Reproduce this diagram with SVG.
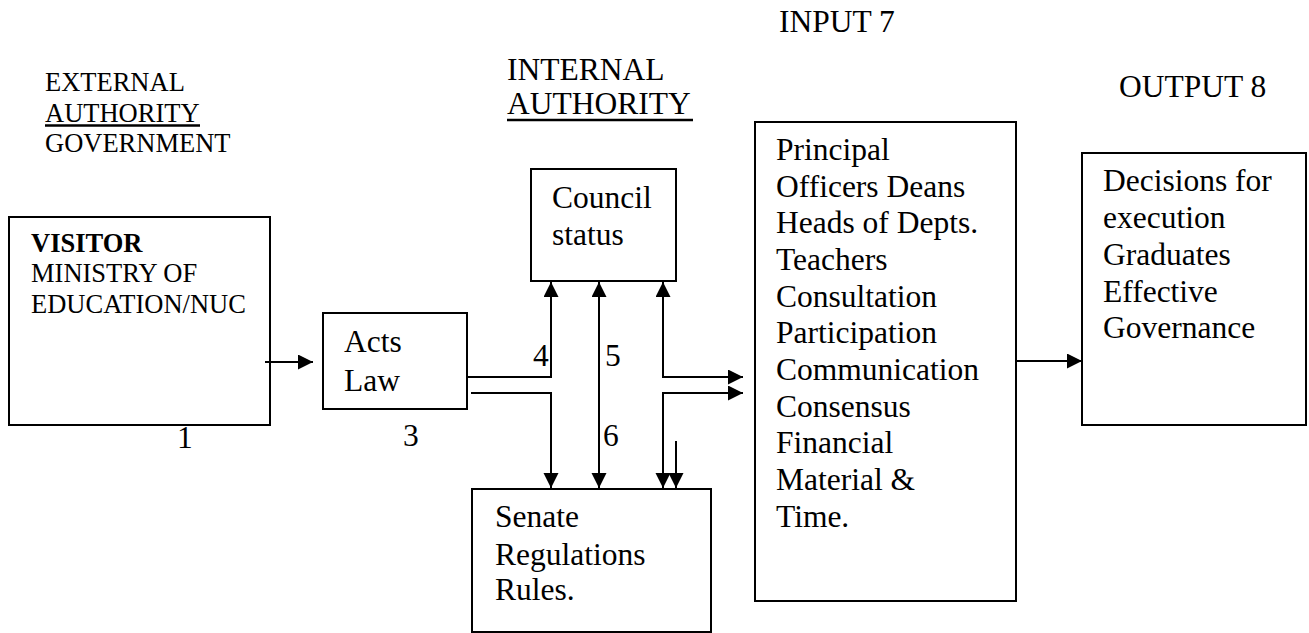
<svg xmlns="http://www.w3.org/2000/svg" width="1309" height="633" viewBox="0 0 1309 633" font-family="'Liberation Serif', 'DejaVu Serif', serif">
<style>
text{font-family:'Liberation Serif','Times New Roman','DejaVu Serif',serif;fill:#000}
.l{font-size:31.5px}
.s{font-size:26.5px}
.b{font-weight:bold}
rect{fill:#fff;stroke:#000;stroke-width:2}
.c path,.c line{fill:none;stroke:#000;stroke-width:2}
.u{stroke:#000;stroke-width:2.5}
</style>
<defs>
<marker id="ah" markerUnits="userSpaceOnUse" markerWidth="16" markerHeight="16" refX="15" refY="7.5" orient="auto-start-reverse" viewBox="0 0 16 16">
<path d="M0,0 L15,7.5 L0,15 z" fill="#000"/>
</marker>
</defs>
<g id="labels">
<text class="s" x="45" y="91">EXTERNAL</text>
<text class="s" x="45" y="122">AUTHORITY</text>
<line class="u" x1="45" y1="125.5" x2="200" y2="125.5"/>
<text class="s" x="45" y="152">GOVERNMENT</text>
<text class="l" x="507" y="80">INTERNAL</text>
<text class="l" x="507" y="114">AUTHORITY</text>
<line class="u" x1="507" y1="120" x2="693" y2="120"/>
<text class="l" x="779" y="32">INPUT 7</text>
<text class="l" x="1119" y="97">OUTPUT 8</text>
<text class="l" x="177" y="448">1</text>
<text class="l" x="403" y="446">3</text>
<text class="l" x="533" y="366">4</text>
<text class="l" x="605" y="366">5</text>
<text class="l" x="603" y="446">6</text>
</g>
<g id="visitor">
<rect x="9" y="217" width="261" height="208"/>
<text class="s b" x="31" y="252">VISITOR</text>
<text class="s" x="31" y="282">MINISTRY OF</text>
<text class="s" x="31" y="313">EDUCATION/NUC</text>
</g>
<g id="acts">
<rect x="323" y="313" width="144" height="96"/>
<text class="l" x="344" y="352">Acts</text>
<text class="l" x="344" y="391">Law</text>
</g>
<g id="council">
<rect x="531" y="169" width="145" height="112"/>
<text class="l" x="552" y="208">Council</text>
<text class="l" x="552" y="245">status</text>
</g>
<g id="senate">
<rect x="472" y="489" width="239" height="143"/>
<text class="l" x="495" y="527">Senate</text>
<text class="l" x="495" y="565">Regulations</text>
<text class="l" x="495" y="600">Rules.</text>
</g>
<g id="input">
<rect x="755" y="122" width="261" height="479"/>
<text class="l" x="776" y="160">Principal</text>
<text class="l" x="776" y="197">Officers Deans</text>
<text class="l" x="776" y="233">Heads of Depts.</text>
<text class="l" x="776" y="270">Teachers</text>
<text class="l" x="776" y="307">Consultation</text>
<text class="l" x="776" y="343">Participation</text>
<text class="l" x="776" y="380">Communication</text>
<text class="l" x="776" y="417">Consensus</text>
<text class="l" x="776" y="453">Financial</text>
<text class="l" x="776" y="490">Material &amp;</text>
<text class="l" x="776" y="527">Time.</text>
</g>
<g id="output">
<rect x="1082" y="153" width="224" height="272"/>
<text class="l" x="1103" y="191">Decisions for</text>
<text class="l" x="1103" y="228">execution</text>
<text class="l" x="1103" y="265">Graduates</text>
<text class="l" x="1103" y="302">Effective</text>
<text class="l" x="1103" y="338">Governance</text>
</g>
<g id="connectors" class="c">
<path d="M265,362 H313" marker-end="url(#ah)"/>
<path d="M467,377 H551 V282" marker-end="url(#ah)"/>
<path d="M471,393 H551 V488" marker-end="url(#ah)"/>
<path d="M599,282 V488" marker-start="url(#ah)" marker-end="url(#ah)"/>
<path d="M743,377 H663 V282" marker-start="url(#ah)" marker-end="url(#ah)"/>
<path d="M743,393 H663 V488" marker-start="url(#ah)" marker-end="url(#ah)"/>
<path d="M676,441 V488" marker-end="url(#ah)"/>
<path d="M1016,361 H1082" marker-end="url(#ah)"/>
</g>
</svg>
